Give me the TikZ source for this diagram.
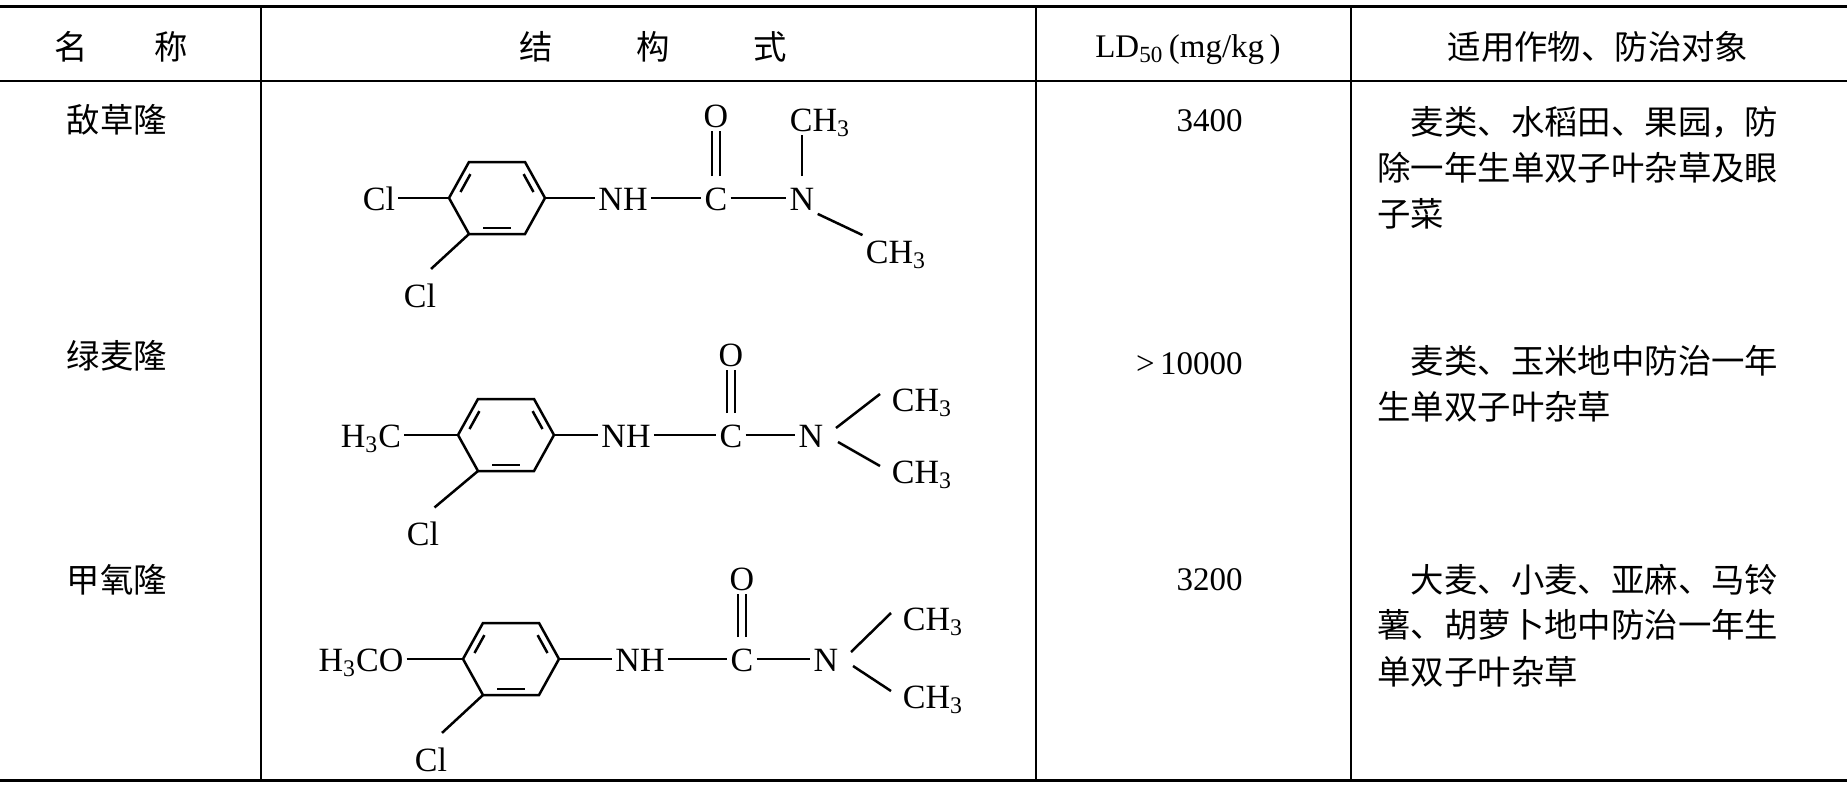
\documentclass[tikz,border=0pt]{standalone}
\usepackage{fontspec}
\setmainfont{Liberation Serif}
\newfontfamily\cjk{Noto Sans CJK SC}
\usetikzlibrary{calc}

\begin{document}
\begin{tikzpicture}[x=0.5pt, y=-0.5pt,
    bond/.style={line width=1.25pt},
    atom/.style={inner xsep=1.5pt, inner ysep=1.5pt, text height=12.5pt, text depth=0pt, font=\fontsize{17}{20}\selectfont},
    cn/.style={inner sep=0pt, font=\cjk\fontsize{16.7}{20}\selectfont},
    num/.style={inner sep=0pt, font=\fontsize{16.5}{19}\selectfont}]
  \useasboundingbox (0, 0) rectangle (1847, 787);
  \newcommand{\benzring}[2]
  {%
    \begin{scope}[shift={#1}]
      \coordinate (#2l) at (-48, 0);
      \coordinate (#2tl) at (-28, -36);
      \coordinate (#2tr) at (28, -36);
      \coordinate (#2r) at (48, 0);
      \coordinate (#2br) at (28, 36);
      \coordinate (#2bl) at (-28, 36);
      \draw[bond] (#2l) -- (#2tl) -- (#2tr) -- (#2r) -- (#2br) -- (#2bl) -- cycle;
      \draw[bond] (-36.5, -6) -- (-26.6, -23.9);
      \draw[bond] (36.5, -6) -- (26.6, -23.9);
      \draw[bond] (-13.9, 29.9) -- (13.9, 29.9);
    \end{scope}%
  }%
  \draw[line width=1.5pt] (0, 6) -- (1847, 6);
  \draw[line width=1.1pt] (0, 81) -- (1847, 81);
  \draw[line width=1.5pt] (0, 780) -- (1847, 780);
  \draw[line width=0.9pt] (261, 6) -- (261, 780);
  \draw[line width=0.9pt] (1036, 6) -- (1036, 780);
  \draw[line width=0.9pt] (1351, 6) -- (1351, 780);
  \node[cn, anchor=base] (hname) at (121, 59) {名\hspace{2em}称};
  \node[cn, anchor=base] (hform) at (653, 59) {结\hspace{2.5em}构\hspace{2.5em}式};
  \node[num, anchor=base] (hld) at (1188, 57) {LD\textsubscript{50}\,(mg/kg\,)};
  \node[cn, anchor=base] (huse) at (1598, 59) {适用作物、防治对象};
  \node[cn, anchor=base] (naa) at (117, 132) {敌草隆};
  \node[cn, anchor=base] (nab) at (117, 368) {绿麦隆};
  \node[cn, anchor=base] (nac) at (117, 592) {甲氧隆};
  \node[num, anchor=base east] (lda) at (1243, 131) {3400};
  \node[num, anchor=base east] (ldb) at (1243, 374) {>\,10000};
  \node[num, anchor=base east] (ldc) at (1243, 590) {3200};
  \node[cn, anchor=base west] (usaa) at (1377, 134) {\hspace*{1em}麦类、水稻田、果园，防};
  \node[cn, anchor=base west] (usab) at (1377, 180) {除一年生单双子叶杂草及眼};
  \node[cn, anchor=base west] (usac) at (1377, 226) {子菜};
  \node[cn, anchor=base west] (usba) at (1377, 373) {\hspace*{1em}麦类、玉米地中防治一年};
  \node[cn, anchor=base west] (usbb) at (1377, 419) {生单双子叶杂草};
  \node[cn, anchor=base west] (usca) at (1377, 592) {\hspace*{1em}大麦、小麦、亚麻、马铃};
  \node[cn, anchor=base west] (uscb) at (1377, 637) {薯、胡萝卜地中防治一年生};
  \node[cn, anchor=base west] (uscc) at (1377, 684) {单双子叶杂草};
  \benzring{(497, 198)}{ma}
  \node[atom] (macl) at (379, 198) {Cl};
  \node[atom] (manh) at (623, 198) {NH};
  \node[atom] (mac) at (716, 198) {C};
  \node[atom] (mao) at (716, 115) {O};
  \node[atom] (man) at (802, 198) {N};
  \node[atom] (mamea) at (820, 119) {CH\textsubscript{3}};
  \node[atom] (mameb) at (896, 251) {CH\textsubscript{3}};
  \node[atom] (maclb) at (420, 295) {Cl};
  \draw[bond] (macl) -- (mal);
  \draw[bond] (mar) -- (manh);
  \draw[bond] (manh) -- (mac);
  \draw[bond] (mac) -- (man);
  \draw[bond, shorten <=3pt] ([xshift=-2pt]mac.north) -- ([xshift=-2pt]mao.south);
  \draw[bond, shorten <=3pt] ([xshift=2pt]mac.north) -- ([xshift=2pt]mao.south);
  \draw[bond, shorten <=3pt] (man.north) -- (man.north |- mamea.south);
  \draw[bond] (man.south east) -- (mameb.north west);
  \draw[bond, shorten >=7.5pt] (mabl) -- (maclb.north);
  \benzring{(506, 435)}{mb}
  \node[atom] (mbme) at (371, 435) {H\textsubscript{3}C};
  \node[atom] (mbnh) at (626, 435) {NH};
  \node[atom] (mbc) at (731, 435) {C};
  \node[atom] (mbo) at (731, 354) {O};
  \node[atom] (mbn) at (811, 435) {N};
  \node[atom] (mbmea) at (922, 399) {CH\textsubscript{3}};
  \node[atom] (mbmeb) at (922, 471) {CH\textsubscript{3}};
  \node[atom] (mbclb) at (423, 533) {Cl};
  \draw[bond] (mbme) -- (mbl);
  \draw[bond] (mbr) -- (mbnh);
  \draw[bond] (mbnh) -- (mbc);
  \draw[bond] (mbc) -- (mbn);
  \draw[bond, shorten <=3pt] ([xshift=-2pt]mbc.north) -- ([xshift=-2pt]mbo.south);
  \draw[bond, shorten <=3pt] ([xshift=2pt]mbc.north) -- ([xshift=2pt]mbo.south);
  \draw[bond] ($(mbn)+(25, -7)$) -- ($(mbmea)+(-42, -5)$);
  \draw[bond] ($(mbn)+(27, 7)$) -- ($(mbmeb)+(-42, -5)$);
  \draw[bond, shorten >=7.5pt] (mbbl) -- (mbclb.north);
  \benzring{(511, 659)}{mc}
  \node[atom] (mcme) at (361, 659) {H\textsubscript{3}CO};
  \node[atom] (mcnh) at (640, 659) {NH};
  \node[atom] (mcc) at (742, 659) {C};
  \node[atom] (mco) at (742, 578) {O};
  \node[atom] (mcn) at (826, 659) {N};
  \node[atom] (mcmea) at (933, 618) {CH\textsubscript{3}};
  \node[atom] (mcmeb) at (933, 696) {CH\textsubscript{3}};
  \node[atom] (mcclb) at (431, 759) {Cl};
  \draw[bond] (mcme) -- (mcl);
  \draw[bond] (mcr) -- (mcnh);
  \draw[bond] (mcnh) -- (mcc);
  \draw[bond] (mcc) -- (mcn);
  \draw[bond, shorten <=3pt] ([xshift=-2pt]mcc.north) -- ([xshift=-2pt]mco.south);
  \draw[bond, shorten <=3pt] ([xshift=2pt]mcc.north) -- ([xshift=2pt]mco.south);
  \draw[bond] ($(mcn)+(25, -7)$) -- ($(mcmea)+(-42, -5)$);
  \draw[bond] ($(mcn)+(27, 7)$) -- ($(mcmeb)+(-42, -5)$);
  \draw[bond, shorten >=7.5pt] (mcbl) -- (mcclb.north);
\end{tikzpicture}
\end{document}
